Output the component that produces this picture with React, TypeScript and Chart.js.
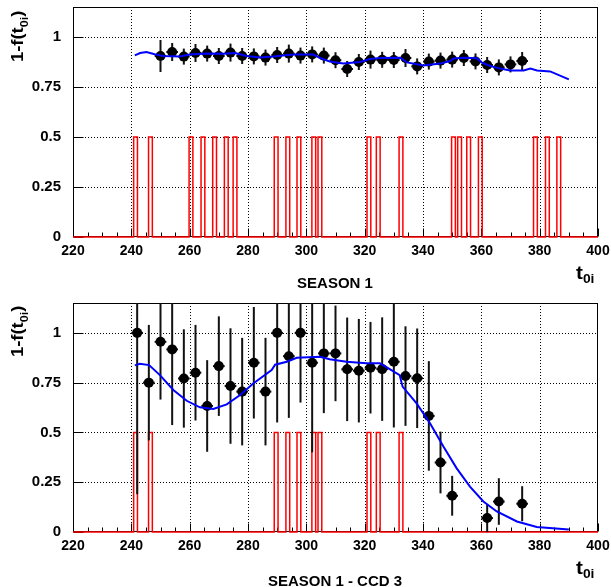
import React, { useEffect, useRef } from "react";
import { Chart, registerables } from "chart.js";
Chart.register(...registerables);

// ---------- data ----------
const X_MIN = 220;
const X_MAX = 400;
const Y_MAX = 1.15;
const X_TICKS = [220, 240, 260, 280, 300, 320, 340, 360, 380, 400];
const Y_TICKS = [0, 0.25, 0.5, 0.75, 1];
const HIST_LEVEL = 0.5;
const BIN_WIDTH = 1.3;

// Season 1 (top panel)
const topX = [250, 254, 258, 262, 266, 270, 274, 278, 282, 286, 290, 294, 298, 302, 306, 310,
  314, 318, 322, 326, 330, 334, 338, 342, 346, 350, 354, 358, 362, 366, 370, 374];
const topY = [0.905, 0.925, 0.902, 0.92, 0.917, 0.905, 0.922, 0.905, 0.903, 0.897, 0.91, 0.917, 0.907, 0.913, 0.907, 0.884,
  0.84, 0.875, 0.887, 0.886, 0.885, 0.895, 0.853, 0.877, 0.882, 0.887, 0.895, 0.878, 0.86, 0.848, 0.863, 0.88];
const topErr = [0.08, 0.045, 0.04, 0.045, 0.04, 0.04, 0.045, 0.04, 0.04, 0.04, 0.04, 0.045, 0.04, 0.04, 0.04, 0.04,
  0.04, 0.04, 0.045, 0.04, 0.04, 0.045, 0.04, 0.04, 0.04, 0.04, 0.04, 0.04, 0.04, 0.04, 0.04, 0.045];
const topCurveX = [241.2, 243, 245.2, 248, 251, 256.6, 260, 265.8, 271.5, 275.5, 279.5, 284.1, 288.6, 295.5, 302.4, 304.7,
  308, 312.7, 318.4, 321.9, 325.3, 332.2, 334.5, 340.2, 345.9, 349.3, 350.5, 353.9, 358.5, 360.2, 363.1, 366.5,
  369.9, 374.5, 376.8, 379.1, 383.6, 390];
const topCurveY = [0.908, 0.92, 0.925, 0.914, 0.905, 0.902, 0.912, 0.918, 0.916, 0.92, 0.905, 0.897, 0.902, 0.912, 0.912, 0.895,
  0.878, 0.868, 0.875, 0.89, 0.895, 0.896, 0.873, 0.857, 0.867, 0.88, 0.892, 0.896, 0.894, 0.872, 0.855, 0.842,
  0.833, 0.833, 0.842, 0.833, 0.828, 0.788];
const topBins = [240.8, 245.9, 259.8, 263.9, 267.9, 271.9, 274.9, 289.0, 293.0, 296.8, 301.9, 304.0,
  320.8, 324.0, 331.8, 349.8, 351.9, 355.0, 359.0, 377.9, 382.0, 385.9];

// Season 1 - CCD 3 (bottom panel)
const botX = [242, 246, 250, 254, 258, 262, 266, 270, 274, 278, 282, 286, 290, 294, 298, 302, 306, 310,
  314, 318, 322, 326, 330, 334, 338, 342, 346, 350, 362, 366, 374];
const botY = [1.0, 0.75, 0.955, 0.917, 0.771, 0.8, 0.633, 0.833, 0.733, 0.705, 0.85, 0.705, 1.0, 0.883, 1.0, 0.85, 0.897, 0.897,
  0.817, 0.81, 0.825, 0.818, 0.855, 0.783, 0.772, 0.583, 0.349, 0.182, 0.07, 0.153, 0.142];
const botErr = [0.81, 0.29, 0.29, 0.38, 0.247, 0.24, 0.23, 0.25, 0.29, 0.27, 0.28, 0.27, 0.45, 0.31, 0.35, 0.45, 0.3, 0.24,
  0.26, 0.26, 0.23, 0.26, 0.33, 0.25, 0.25, 0.275, 0.155, 0.1, 0.07, 0.117, 0.088];
const botCurveX = [241.2, 242.9, 246.1, 249.8, 254.4, 259, 263.5, 268.1, 272.7, 277.3, 281.8, 288.1, 289.3, 293.3, 296.7,
  304.7, 308, 313.8, 320.6, 325.2, 326.9, 332, 333, 337.8, 342.4, 347, 351.5, 356.1, 360.7, 365.3, 372.2, 379, 390];
const botCurveY = [0.837, 0.845, 0.838, 0.788, 0.713, 0.659, 0.626, 0.618, 0.641, 0.688, 0.746, 0.813, 0.84, 0.855, 0.875,
  0.88, 0.868, 0.855, 0.847, 0.847, 0.833, 0.788, 0.73, 0.646, 0.546, 0.429, 0.321, 0.228, 0.153, 0.103, 0.053, 0.025, 0.012];
const botBins = [240.8, 245.9, 289.0, 293.0, 296.8, 301.9, 304.0, 320.8, 324.0, 331.8];

// ---------- helpers ----------
const FONT = "'Liberation Sans', Arial, Helvetica, sans-serif";
const STRETCH = 1.15;

function buildHist(bins: number[]) {
  const pts: { x: number; y: number }[] = [{ x: X_MIN, y: 0 }];
  for (const s of bins) {
    pts.push({ x: s, y: 0 }, { x: s, y: HIST_LEVEL }, { x: s + BIN_WIDTH, y: HIST_LEVEL }, { x: s + BIN_WIDTH, y: 0 });
  }
  pts.push({ x: X_MAX, y: 0 });
  return pts;
}
function zip(xs: number[], ys: number[]) {
  return xs.map((x, i) => ({ x, y: ys[i] }));
}

type PanelCfg = {
  xs: number[];
  ys: number[];
  errs: number[];
  curveX: number[];
  curveY: number[];
  bins: number[];
  label: string;
  padTop: number;
  xHeight: number;
  canvasH: number;
  titleY0: number;
  labelBaseline: number;
};

function zeroPad(s: any) {
  s.paddingTop = 0;
  s.paddingBottom = 0;
  s.paddingLeft = 0;
  s.paddingRight = 0;
}

function makeDecor(cfg: PanelCfg) {
  return {
    id: "decor",
    beforeDatasetsDraw(chart: any) {
      const { ctx, chartArea: a, scales } = chart;
      const x = scales.x;
      const y = scales.y;
      ctx.save();
      ctx.strokeStyle = "#000";
      ctx.lineWidth = 1;
      ctx.setLineDash([1, 2]);
      for (const v of X_TICKS) {
        if (v === X_MIN || v === X_MAX) continue;
        const px = Math.round(x.getPixelForValue(v)) + 0.5;
        ctx.beginPath();
        ctx.moveTo(px, a.top);
        ctx.lineTo(px, a.bottom);
        ctx.stroke();
      }
      for (const v of Y_TICKS) {
        if (v === 0) continue;
        const py = Math.round(y.getPixelForValue(v)) + 0.5;
        ctx.beginPath();
        ctx.moveTo(a.left, py);
        ctx.lineTo(a.right, py);
        ctx.stroke();
      }
      ctx.setLineDash([]);
      const l = Math.round(a.left) + 0.5;
      const r = Math.round(a.right) - 0.5;
      const t = Math.round(a.top) + 0.5;
      const b = Math.round(a.bottom) - 0.5;
      ctx.strokeRect(l, t, r - l, b - t);
      for (let v = X_MIN; v <= X_MAX; v += 5) {
        const len = v % 20 === 0 ? 8 : 4;
        const px = Math.round(x.getPixelForValue(v)) + 0.5;
        ctx.beginPath();
        ctx.moveTo(px, b);
        ctx.lineTo(px, b - len);
        ctx.stroke();
      }
      for (const v of Y_TICKS) {
        const py = Math.round(y.getPixelForValue(v)) + 0.5;
        ctx.beginPath();
        ctx.moveTo(l, py);
        ctx.lineTo(l + 10, py);
        ctx.stroke();
      }
      ctx.restore();
    },
    beforeDatasetDraw(chart: any, args: any) {
      if (args.index !== 1) return;
      const { ctx, chartArea: a, scales } = chart;
      const x = scales.x;
      const y = scales.y;
      ctx.save();
      ctx.beginPath();
      ctx.rect(a.left, a.top, a.width, a.height);
      ctx.clip();
      ctx.strokeStyle = "#111";
      ctx.lineWidth = 2;
      cfg.xs.forEach((xv, i) => {
        const px = x.getPixelForValue(xv);
        const y0 = y.getPixelForValue(cfg.ys[i] - cfg.errs[i]);
        const y1 = y.getPixelForValue(cfg.ys[i] + cfg.errs[i]);
        ctx.beginPath();
        ctx.moveTo(px, y0);
        ctx.lineTo(px, y1);
        ctx.stroke();
        const pl = x.getPixelForValue(xv - 2);
        const pr = x.getPixelForValue(xv + 2);
        const py = y.getPixelForValue(cfg.ys[i]);
        ctx.beginPath();
        ctx.moveTo(pl, py);
        ctx.lineTo(pr, py);
        ctx.stroke();
      });
      ctx.restore();
    },
    afterDraw(chart: any) {
      const { ctx, chartArea: a } = chart;
      ctx.save();
      ctx.fillStyle = "#000";
      ctx.textBaseline = "alphabetic";
      ctx.textAlign = "left";
      // y title, rotated
      ctx.save();
      ctx.translate(23, cfg.titleY0);
      ctx.rotate(-Math.PI / 2);
      ctx.scale(STRETCH, 1);
      ctx.font = `bold 16px ${FONT}`;
      let u = 0;
      ctx.fillText("1-f(t", u, 0);
      u += ctx.measureText("1-f(t").width;
      ctx.font = `bold 11px ${FONT}`;
      ctx.fillText("0i", u, 5);
      u += ctx.measureText("0i").width;
      ctx.font = `bold 16px ${FONT}`;
      ctx.fillText(")", u, 0);
      ctx.restore();
      // x title
      const tb = a.bottom + 42;
      ctx.save();
      ctx.translate(576, tb);
      ctx.scale(STRETCH, 1);
      ctx.font = `bold 18px ${FONT}`;
      ctx.fillText("t", 0, 0);
      const tw = ctx.measureText("t").width;
      ctx.font = `bold 12px ${FONT}`;
      ctx.fillText("0i", tw, 4);
      ctx.restore();
      // panel label
      ctx.font = `bold 15px ${FONT}`;
      ctx.textAlign = "center";
      ctx.fillText(cfg.label, 335, cfg.labelBaseline);
      ctx.restore();
    },
  };
}

function Panel({ cfg, top }: { cfg: PanelCfg; top: number }) {
  const ref = useRef<HTMLCanvasElement>(null);
  useEffect(() => {
    const chart = new Chart(ref.current as HTMLCanvasElement, {
      type: "line",
      data: {
        datasets: [
          {
            data: zip(cfg.curveX, cfg.curveY),
            borderColor: "#0000ff",
            borderWidth: 2,
            pointRadius: 0,
            tension: 0,
            fill: false,
          },
          {
            data: zip(cfg.xs, cfg.ys),
            showLine: false,
            pointRadius: 5,
            pointBackgroundColor: "#000",
            pointBorderWidth: 0,
            pointBorderColor: "#000",
          },
          {
            data: buildHist(cfg.bins),
            borderColor: "#ff0000",
            borderWidth: 1.5,
            pointRadius: 0,
            tension: 0,
            fill: false,
            clip: 3,
          },
        ],
      } as any,
      options: {
        responsive: false,
        animation: false,
        devicePixelRatio: 1,
        layout: { padding: { top: cfg.padTop, right: 13, bottom: 0, left: 0 } },
        plugins: { legend: { display: false }, tooltip: { enabled: false } },
        scales: {
          x: {
            type: "linear",
            min: X_MIN,
            max: X_MAX,
            afterBuildTicks: (s: any) => {
              s.ticks = X_TICKS.map((v) => ({ value: v }));
            },
            afterFit: (s: any) => {
              s.height = cfg.xHeight;
              zeroPad(s);
            },
            ticks: {
              font: { family: FONT, size: 14, weight: "bold" },
              color: "#000",
              padding: 6,
              maxRotation: 0,
              autoSkip: false,
              callback: (v: any) => String(v),
            },
            grid: { display: false, drawTicks: false },
            border: { display: false },
          },
          y: {
            type: "linear",
            min: 0,
            max: Y_MAX,
            afterBuildTicks: (s: any) => {
              s.ticks = Y_TICKS.map((v) => ({ value: v }));
            },
            afterFit: (s: any) => {
              s.width = 73;
              zeroPad(s);
            },
            ticks: {
              font: { family: FONT, size: 15, weight: "bold" },
              color: "#000",
              padding: 12,
              autoSkip: false,
              callback: (v: any) => String(v),
            },
            grid: { display: false, drawTicks: false },
            border: { display: false },
          },
        },
      } as any,
      plugins: [makeDecor(cfg)],
    });
    return () => chart.destroy();
  }, []);
  return (
    <canvas
      ref={ref}
      width={611}
      height={cfg.canvasH}
      style={{ position: "absolute", left: 0, top, width: 611, height: cfg.canvasH, display: "block" }}
    />
  );
}

const topCfg: PanelCfg = {
  xs: topX,
  ys: topY,
  errs: topErr,
  curveX: topCurveX,
  curveY: topCurveY,
  bins: topBins,
  label: "SEASON 1",
  padTop: 7,
  xHeight: 56,
  canvasH: 293,
  titleY0: 62,
  labelBaseline: 288,
};
const botCfg: PanelCfg = {
  xs: botX,
  ys: botY,
  errs: botErr,
  curveX: botCurveX,
  curveY: botCurveY,
  bins: botBins,
  label: "SEASON 1 - CCD 3",
  padTop: 10,
  xHeight: 55,
  canvasH: 294,
  titleY0: 64,
  labelBaseline: 293,
};

export default function App() {
  return (
    <div style={{ position: "fixed", left: 0, top: 0, width: 611, height: 587, background: "#fff", overflow: "hidden" }}>
      <Panel cfg={topCfg} top={0} />
      <Panel cfg={botCfg} top={293} />
    </div>
  );
}
